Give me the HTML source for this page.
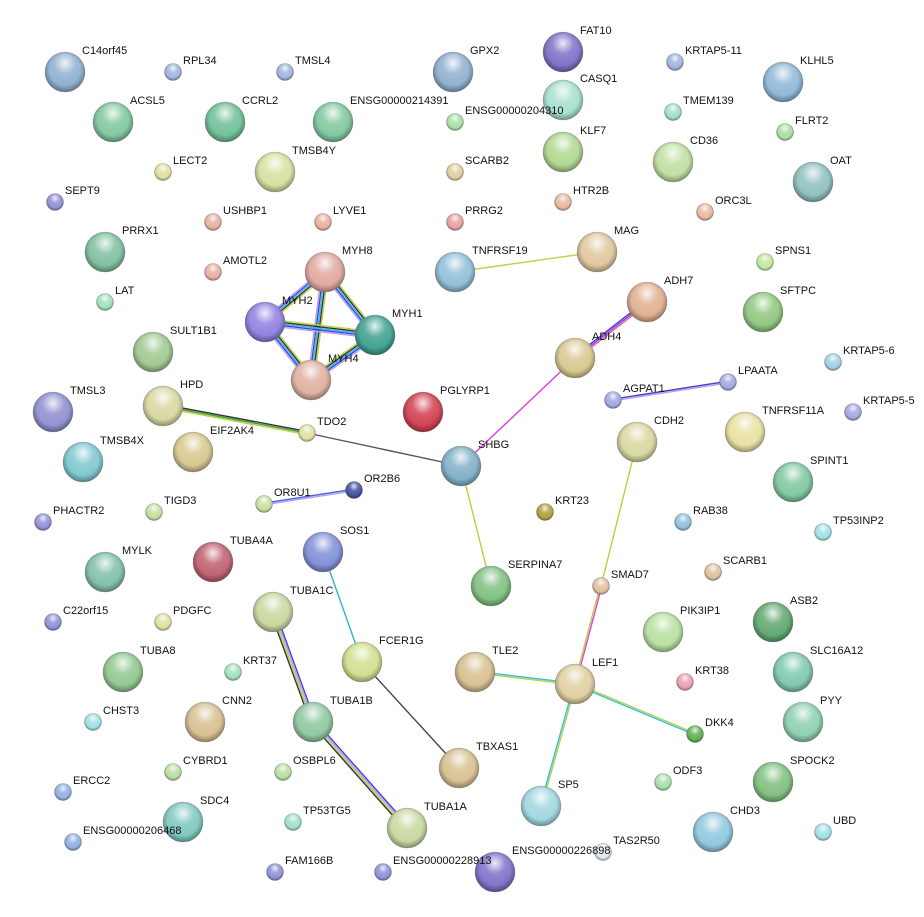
<!DOCTYPE html>
<html><head><meta charset="utf-8">
<style>
html,body{margin:0;padding:0;background:#fff;}
svg{display:block;}
text{font-family:"Liberation Sans",sans-serif;font-size:11px;fill:#111;}
</style></head>
<body>
<svg id="s" width="924" height="917" xmlns="http://www.w3.org/2000/svg">
<defs>
<radialGradient id="hl" cx="50%" cy="28%" r="60%">
<stop offset="0" stop-color="#fff" stop-opacity="0.85"/>
<stop offset="0.45" stop-color="#fff" stop-opacity="0.15"/>
<stop offset="1" stop-color="#fff" stop-opacity="0"/>
</radialGradient>
<radialGradient id="sh" cx="50%" cy="45%" r="55%">
<stop offset="0.7" stop-color="#000" stop-opacity="0"/>
<stop offset="1" stop-color="#000" stop-opacity="0.35"/>
</radialGradient>
</defs>
<g id="e"></g><g id="n"></g>
</svg>
<script>
var N={
C14orf45:[65,72,1,'#8fb0d0'],RPL34:[173,72,0,'#a0b4e0'],TMSL4:[285,72,0,'#a0b4e0'],GPX2:[453,72,1,'#8fb0d0'],
FAT10:[563,52,1,'#8070c8'],CASQ1:[563,100,1,'#a8e0d0'],'KRTAP5-11':[675,62,0,'#a0b4e0'],KLHL5:[783,82,1,'#90b8d8'],
ACSL5:[113,122,1,'#80c8a0'],CCRL2:[225,122,1,'#70c098'],ENSG00000214391:[333,122,1,'#80c8a0'],ENSG00000204310:[455,122,0,'#a8e0a8'],
TMEM139:[673,112,0,'#a0e0c0'],KLF7:[563,152,1,'#b0d890'],FLRT2:[785,132,0,'#a8e0a0'],CD36:[673,162,1,'#c0e0a0'],
OAT:[813,182,1,'#90c0c0'],TMSB4Y:[275,172,1,'#d8e0a0'],LECT2:[163,172,0,'#e0e0a0'],SCARB2:[455,172,0,'#e0d0a0'],
SEPT9:[55,202,0,'#9090d8'],HTR2B:[563,202,0,'#e8b8a0'],ORC3L:[705,212,0,'#e8b8a0'],USHBP1:[213,222,0,'#e8b0a0'],
LYVE1:[323,222,0,'#e8b0a0'],PRRG2:[455,222,0,'#e8a0a0'],PRRX1:[105,252,1,'#80c0a0'],TNFRSF19:[455,272,1,'#90c0d8'],
MAG:[597,252,1,'#e0c8a0'],AMOTL2:[213,272,0,'#e8b0a0'],MYH8:[325,272,1,'#e0a8a0'],SPNS1:[765,262,0,'#c0e8a0'],
LAT:[105,302,0,'#a0e0c0'],ADH7:[647,302,1,'#e0b090'],MYH2:[265,322,1,'#9080e0'],MYH1:[375,335,1,'#40a090'],
SFTPC:[763,312,1,'#90c880'],SULT1B1:[153,352,1,'#a0c890'],ADH4:[575,358,1,'#d8c890'],MYH4:[311,380,1,'#e0b0a0'],
'KRTAP5-6':[833,362,0,'#a0d0e0'],AGPAT1:[613,400,0,'#a0a8e0'],LPAATA:[728,382,0,'#a0a8e0'],TMSL3:[53,412,1,'#9090d0'],
PGLYRP1:[423,412,1,'#d04050'],HPD:[163,406,1,'#d8d8a0'],'KRTAP5-5':[853,412,0,'#a0a8e0'],TNFRSF11A:[745,432,1,'#e8e0a0'],
TDO2:[307,433,0,'#e0e0a0'],EIF2AK4:[193,452,1,'#d8c890'],CDH2:[637,442,1,'#d8d8a0'],SHBG:[461,466,1,'#80b0c8'],
TMSB4X:[83,462,1,'#80c8d0'],SPINT1:[793,482,1,'#80c8a0'],OR2B6:[354,490,0,'#4050a0'],OR8U1:[264,504,0,'#c8e0a0'],
KRT23:[545,512,0,'#b0a040'],TIGD3:[154,512,0,'#c8e0a0'],PHACTR2:[43,522,0,'#9090d8'],RAB38:[683,522,0,'#90c0e0'],
TP53INP2:[823,532,0,'#a0e0e8'],SOS1:[323,552,1,'#8090d8'],TUBA4A:[213,562,1,'#c06070'],MYLK:[105,572,1,'#80c0a8'],
SERPINA7:[491,586,1,'#80c080'],SCARB1:[713,572,0,'#e0c0a0'],SMAD7:[601,586,0,'#e0c0a0'],C22orf15:[53,622,0,'#9090d8'],
PDGFC:[163,622,0,'#e0e0a0'],TUBA1C:[273,612,1,'#c8d8a0'],PIK3IP1:[663,632,1,'#b8e0a0'],ASB2:[773,622,1,'#60a870'],
FCER1G:[362,662,1,'#d0e090'],TLE2:[475,672,1,'#d8c090'],LEF1:[575,684,1,'#e0d0a0'],KRT38:[685,682,0,'#e8a0b0'],
SLC16A12:[793,672,1,'#80c8b0'],TUBA8:[123,672,1,'#90c890'],KRT37:[233,672,0,'#a0e0c0'],CNN2:[205,722,1,'#d8c090'],
TUBA1B:[313,722,1,'#90c8a0'],CHST3:[93,722,0,'#a0e0e0'],DKK4:[695,734,0,'#60b050'],PYY:[803,722,1,'#90d0b0'],
TBXAS1:[459,768,1,'#d8c090'],CYBRD1:[173,772,0,'#b8e0a0'],OSBPL6:[283,772,0,'#b8e0a0'],SPOCK2:[773,782,1,'#80c080'],
ODF3:[663,782,0,'#a8e0a8'],ERCC2:[63,792,0,'#90b0e0'],SP5:[541,806,1,'#a0d8e0'],SDC4:[183,822,1,'#80c8c0'],
TP53TG5:[293,822,0,'#a0e0c8'],TUBA1A:[407,828,1,'#c8d8a0'],CHD3:[713,832,1,'#90c8e0'],UBD:[823,832,0,'#a0e0e8'],
ENSG00000206468:[73,842,0,'#90b0e0'],TAS2R50:[603,852,0,'#e0e8f0'],ENSG00000226898:[495,872,1,'#8070c8'],
FAM166B:[275,872,0,'#9090d8'],ENSG00000228913:[383,872,0,'#9090d8']
};
var M=['#c0d040','#333','#30c0e0','#4040e0','#b0a0f0'];
var E=[['TNFRSF19','MAG',['#c0d040']],
['MYH8','MYH2',M],['MYH8','MYH1',M],['MYH8','MYH4',M],['MYH2','MYH1',M],['MYH2','MYH4',M],['MYH4','MYH1',M],
['HPD','TDO2',['#333','#40a040','#c0d040']],['TDO2','SHBG',['#555']],
['ADH4','ADH7',['#4040e0','#a040c0','#e060c0']],['SHBG','ADH4',['#e040e0']],
['AGPAT1','LPAATA',['#4040c0','#b0a0f0']],['OR8U1','OR2B6',['#4060e0','#b0a0f0']],
['SHBG','SERPINA7',['#c0d040']],['CDH2','SMAD7',['#c0d040']],['SMAD7','LEF1',['#e040e0','#c0d040']],
['LEF1','TLE2',['#c0d040','#30c0e0']],['LEF1','DKK4',['#c0d040','#30c0e0']],['LEF1','SP5',['#c0d040','#30c0e0']],
['SOS1','FCER1G',['#30b0d0']],['FCER1G','TBXAS1',['#444']],
['TUBA1C','TUBA1B',['#4040e0','#b0a0f0','#c0d040','#333']],['TUBA1B','TUBA1A',['#4040e0','#b0a0f0','#c0d040','#333']]];
var ns='http://www.w3.org/2000/svg',eg=document.getElementById('e'),ng=document.getElementById('n');
function el(t,a,p){var x=document.createElementNS(ns,t);for(var k in a)x.setAttribute(k,a[k]);p.appendChild(x);return x;}
E.forEach(function(e){var a=N[e[0]],b=N[e[1]],c=e[2];var dx=b[0]-a[0],dy=b[1]-a[1],L=Math.hypot(dx,dy),px=-dy/L,py=dx/L;
c.forEach(function(col,i){var o=(i-(c.length-1)/2)*1.6;
el('line',{x1:a[0]+px*o,y1:a[1]+py*o,x2:b[0]+px*o,y2:b[1]+py*o,stroke:col,'stroke-width':1.4},eg);});});
for(var k in N){var v=N[k],r=v[2]?20:8.5;
el('circle',{cx:v[0],cy:v[1],r:r,fill:v[3],stroke:'#777','stroke-opacity':0.5,'stroke-width':0.6},ng);
el('circle',{cx:v[0],cy:v[1],r:r,fill:'url(#sh)'},ng);
el('circle',{cx:v[0],cy:v[1],r:r,fill:'url(#hl)'},ng);
var t=el('text',{x:v[0]+(v[2]?17:10),y:v[1]-(v[2]?18:8)},ng);t.textContent=k;}
</script>
</body></html>
